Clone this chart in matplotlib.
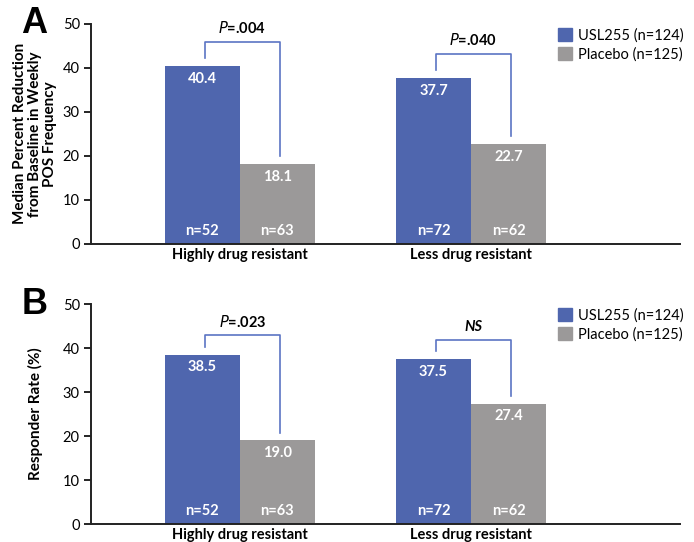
import numpy as np
import matplotlib
matplotlib.use("Agg")
import matplotlib.pyplot as plt
from matplotlib.patches import Patch

plt.rcParams['font.family'] = ['Lato', 'DejaVu Sans']

# Data
categories = ["Highly drug resistant", "Less drug resistant"]
usl_label = "USL255 (n=124)"
pbo_label = "Placebo (n=125)"

# Panel A: median percent reduction
a_usl = [40.4, 37.7]
a_pbo = [18.1, 22.7]
a_n_usl = ["n=52", "n=72"]
a_n_pbo = ["n=63", "n=62"]
a_pvals = [r"$\bf{\it{P}}$=.004", r"$\bf{\it{P}}$=.040"]

# Panel B: responder rate
b_usl = [38.5, 37.5]
b_pbo = [19.0, 27.4]
b_n_usl = ["n=52", "n=72"]
b_n_pbo = ["n=63", "n=62"]
b_pvals = [r"$\bf{\it{P}}$=.023", "NS"]

blue = "#4F66AE"
gray = "#9B9999"
bracket_col = "#5B74C4"

fig = plt.figure(figsize=(6.94, 5.42), dpi=100)
axA = fig.add_axes([0.131, 0.550, 0.849, 0.406])
axB = fig.add_axes([0.131, 0.033, 0.849, 0.406])

width = 0.325
x = np.arange(len(categories))


def draw_panel(ax, usl, pbo, n_usl, n_pbo, pvals, ylabel, letter, offset, pad):
    ax.bar(x - width / 2, usl, width, color=blue, align="center")
    ax.bar(x + width / 2, pbo, width, color=gray, align="center")
    for i in range(len(x)):
        ax.text(x[i] - width / 2, usl[i] - 2.9, f"{usl[i]:.1f}", ha="center", va="center",
                color="white", fontsize=10.5, fontweight="bold")
        ax.text(x[i] + width / 2, pbo[i] - 2.9, f"{pbo[i]:.1f}", ha="center", va="center",
                color="white", fontsize=10.5, fontweight="bold")
        ax.text(x[i] - width / 2, 3.0, n_usl[i], ha="center", va="center",
                color="white", fontsize=10.5, fontweight="bold")
        ax.text(x[i] + width / 2, 3.0, n_pbo[i], ha="center", va="center",
                color="white", fontsize=10.5, fontweight="bold")
        # significance bracket
        top = max(usl[i], pbo[i]) + offset
        xl = x[i] - width / 2 + 0.01
        xr = x[i] + width / 2 + 0.01
        ax.plot([xl, xl, xr, xr], [usl[i] + 1.8, top, top, pbo[i] + 1.8],
                color=bracket_col, lw=1.2)
        style = "italic" if pvals[i] == "NS" else "normal"
        ax.text((xl + xr) / 2, top + 1.3, pvals[i], ha="center", va="bottom",
                fontsize=10.5, fontweight="bold", fontstyle=style)

    ax.set_xlim(-0.645, 1.905)
    ax.set_ylim(0, 50)
    ax.set_yticks([0, 10, 20, 30, 40, 50])
    ax.set_xticks(x)
    ax.set_xticklabels(categories, fontsize=10.5, fontweight="bold")
    ax.tick_params(axis="x", length=0, pad=3)
    ax.tick_params(axis="y", length=5, width=1.2, labelsize=10.5, pad=3)
    for s in ["top", "right"]:
        ax.spines[s].set_visible(False)
    for s in ["left", "bottom"]:
        ax.spines[s].set_linewidth(1.4)
        ax.spines[s].set_color("#222222")
    ax.set_ylabel(ylabel, fontsize=11, fontweight="bold", linespacing=1.1, labelpad=pad)
    ax.text(-0.118, 1.0, letter, transform=ax.transAxes, fontsize=26, fontweight="bold",
            family="Liberation Sans", ha="left", va="center")
    handles = [Patch(color=blue, label=usl_label), Patch(color=gray, label=pbo_label)]
    ax.legend(handles=handles, loc="upper left", bbox_to_anchor=(0.77, 1.04), frameon=False,
              fontsize=10.5, handlelength=1.0, handleheight=1.0, handletextpad=0.4,
              labelspacing=0.3)


draw_panel(axA, a_usl, a_pbo, a_n_usl, a_n_pbo, a_pvals,
           "Median Percent Reduction\nfrom Baseline in Weekly\nPOS Frequency", "A", 5.5, 4)
draw_panel(axB, b_usl, b_pbo, b_n_usl, b_n_pbo, b_pvals,
           "Responder Rate (%)", "B", 4.4, 14)

fig.savefig("out.png", dpi=100)
